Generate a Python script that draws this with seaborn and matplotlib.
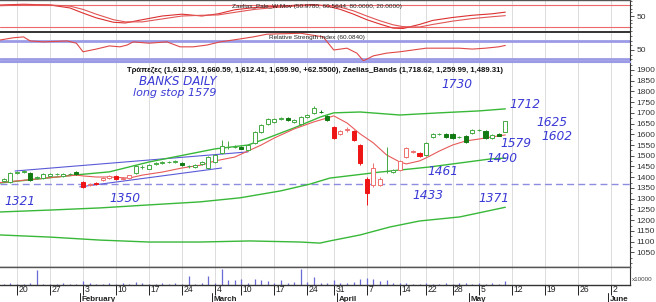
import matplotlib
matplotlib.use("Agg")
import matplotlib.pyplot as plt
import seaborn as sns
import pandas as pd
from matplotlib.transforms import ScaledTranslation, blended_transform_factory
from matplotlib.ticker import MultipleLocator

# ---------------- data (trading-day index 0 = 20 January) ----------------
day_index = list(range(-2, 75))
opens = [1383, 1378, 1421, 1426, 1420, 1398, 1398, 1405, 1413, 1406, 1414, 1424,
         1378, 1366, 1373, 1386, 1397, 1406, 1392, 1396,
         1418, 1446, 1440, 1463, 1466, 1470, 1473, 1467, 1450, 1447, 1461, 1443,
         1472, 1513, 1541, 1540, 1542, 1527, 1560, 1611, 1648, 1658, 1672, 1676,
         1658, 1648, 1680, 1700, 1706, 1685,
         1634, 1603, 1621, 1615, 1550, 1390, 1364, 1366, 1427, 1425, 1434, 1494,
         1518, 1513,
         1504, 1588, 1600, 1602, 1600, 1586, 1592, 1606, 1619, 1615, 1584, 1601, 1612.93]
highs = [1395, 1426, 1430, 1434, 1424, 1406, 1419, 1418, 1420, 1418, 1420, 1428,
         1382, 1375, 1378, 1400, 1410, 1409, 1399, 1412,
         1456, 1455, 1460, 1470, 1476, 1477, 1480, 1471, 1458, 1460, 1475, 1500,
         1508, 1574, 1568, 1548, 1547, 1553, 1614, 1648, 1676, 1676, 1680, 1681,
         1670, 1684, 1695, 1730, 1712, 1690,
         1640, 1620, 1633, 1620, 1556, 1402, 1466, 1400, 1541, 1440, 1480, 1540,
         1527, 1518,
         1564, 1604, 1607, 1606, 1604, 1594, 1596, 1624, 1626, 1619, 1600, 1604, 1660.59]
lows = [1378, 1372, 1416, 1420, 1384, 1393, 1394, 1401, 1409, 1403, 1410, 1411,
        1350, 1360, 1364, 1382, 1394, 1388, 1388, 1392,
        1414, 1440, 1437, 1458, 1462, 1465, 1468, 1454, 1445, 1443, 1457, 1440,
        1468, 1508, 1533, 1534, 1530, 1522, 1555, 1606, 1643, 1653, 1667, 1663,
        1654, 1644, 1675, 1696, 1698, 1663,
        1578, 1598, 1612, 1568, 1457, 1270, 1355, 1360, 1420, 1420, 1430, 1490,
        1512, 1495,
        1500, 1584, 1595, 1585, 1580, 1582, 1560, 1602, 1614, 1578, 1580, 1590, 1612.41]
closes = [1392, 1420, 1424, 1429, 1388, 1402, 1415, 1414, 1416, 1415, 1416, 1415,
          1355, 1369, 1368, 1397, 1406, 1392, 1396, 1410,
          1452, 1449, 1457, 1466, 1472, 1472, 1477, 1457, 1453, 1456, 1471, 1494,
          1504, 1545, 1543, 1542, 1533, 1550, 1611, 1644, 1672, 1671, 1675, 1667,
          1667, 1680, 1690, 1722, 1703, 1667,
          1583, 1615, 1625, 1573, 1466, 1327, 1443, 1394, 1431, 1433, 1476, 1536,
          1520, 1499,
          1560, 1601, 1602, 1588, 1583, 1589, 1565, 1620, 1621, 1583, 1597, 1594, 1659.90]
tones = (["g"] * 12 + ["r"] * 8 + ["g"] * 30 + ["r"] * 8 + ["g"] * 2 + ["r"] * 4
         + ["g"] * 13)

volume = [1, 1.5, 1, 1, 1.5, 15, 1, 1, 1, 1.5, 1, 1, 4, 1.5, 1, 1, 1.5, 1, 1.5, 1,
          3, 1.5, 1, 1, 1.5, 1, 1.5, 1, 9, 1, 1.5, 9, 1.5, 16, 5, 5, 6, 2, 6, 5, 4,
          1.5, 5, 2, 3, 16, 3, 8, 2, 2, 5, 2, 2, 3, 6, 7, 6, 4, 5, 2, 2, 1.5, 1, 1,
          1.5, 1, 1, 1.5, 1, 1.5, 2, 1, 1.5, 1, 1.5, 1, 4]

# Zaelias bands (upper / middle / lower) and short red average
upper_x = [-2.6, 9, 14, 20, 30, 35, 38, 42, 46, 48, 52, 58, 64, 70, 74]
upper_y = [1373, 1411, 1425, 1471, 1532, 1550, 1583, 1630, 1681, 1700, 1704, 1690, 1700, 1709, 1718.62]
middle_x = [-2.6, 5, 12.6, 20, 27.7, 33.8, 39.9, 44.4, 47.4, 55, 62.6, 71.7, 74]
middle_y = [1238, 1247, 1257, 1271, 1285, 1304, 1336, 1368, 1396, 1424, 1448, 1485, 1489.31]
lower_x = [-2.6, 5, 12.6, 20, 27.7, 35.3, 42.9, 45.9, 47.4, 52, 56.5, 61, 67.1, 74]
lower_y = [1131, 1121, 1107, 1098, 1098, 1103, 1098, 1093, 1103, 1131, 1168, 1196, 1215, 1259.99]
red_x = [-2.6, 9, 10, 12, 14, 17, 19, 22, 25, 28, 30, 33, 35, 37, 39, 42, 45, 47,
         48, 50, 52, 54, 56, 58, 59, 61, 62, 64, 66, 68, 70, 72, 74]
red_y = [1375, 1410, 1406, 1401, 1401, 1396, 1410, 1424, 1443, 1457, 1476, 1494,
         1522, 1550, 1583, 1625, 1658, 1676, 1686, 1653, 1602, 1560, 1504, 1471,
         1462, 1476, 1490, 1522, 1550, 1569, 1578, 1588, 1597]

# drawn trend lines and stop level
trend_a_x = [-0.3, 35]
trend_a_y = [1429, 1518]
trend_b_x = [9.5, 31]
trend_b_y = [1355, 1443]
stop_level = 1368

# oscillator panel
osc_x = [-2.6, 1, 5, 8, 10, 12, 14.6, 16.4, 19, 22, 25, 28, 30.5, 33, 36, 39, 42,
         45, 47, 49, 51, 53, 55, 57, 58.5, 61, 63, 66, 69, 72, 74]
osc_a = [80, 82, 80, 72, 58, 45, 33, 31, 40, 50, 55, 50, 56, 67, 73, 76, 79, 81,
         77, 68, 55, 40, 28, 17, 16, 27, 38, 46, 52, 56, 60.56]
osc_b = [78, 80, 80, 77, 68, 55, 40, 34, 34, 42, 50, 52, 53, 60, 68, 73, 77, 79,
         79, 74, 64, 50, 37, 26, 21, 20, 27, 36, 43, 48, 50.98]

# RSI panel
rsi_x = [-2.6, -0.6, 1, 1.2, 2, 4, 7.6, 9, 10, 12, 14, 15.6, 16.7, 17.6, 20, 22.7,
         24.7, 26.7, 28.8, 30.8, 32.7, 35.8, 37.9, 43, 46.4, 48, 50, 51.5, 52.5,
         54, 56, 58, 60, 62, 65, 67, 69, 71, 73, 74]
rsi_y = [72, 77, 79, 77, 70, 68, 70, 65, 46, 52, 59, 57, 61, 68, 65, 68, 57, 57,
         61, 68, 72, 79, 85, 87, 79, 50, 54, 43, 26, 37, 43, 46, 50, 54, 54, 54,
         52, 54, 57, 60.08]

week_ticks = [0, 5, 10, 15, 20, 25, 30, 34, 39, 44, 48, 53, 58, 62, 66, 70, 75, 80, 85, 90]
week_labels = ["20", "27", "3", "10", "17", "24", "4", "10", "17", "24", "31", "7",
               "14", "22", "28", "5", "12", "19", "26", "2"]
month_pos = [9.5, 29.5, 48.5, 68.5, 89.5]
month_labels = ["February", "March", "April", "May", "June"]
price_ticks = list(range(1050, 1901, 50))

notes = ["BANKS DAILY", "long stop 1579", "1730", "1712", "1625", "1602", "1579",
         "1490", "1461", "1433", "1371", "1321", "1350"]
notes_x = [24.4, 23.9, 66.7, 77, 81, 81.8, 75.6, 73.5, 64.5, 62.3, 72.3, 0.5, 16.4]
notes_y = [1847, 1791, 1830, 1741, 1653, 1592, 1555, 1485, 1429, 1313, 1299, 1289, 1299]
notes_size = [8.6, 8.0, 8.8, 8.8, 8.8, 8.8, 8.8, 8.8, 8.8, 8.8, 8.8, 8.8, 8.8]

title_main = ("Τράπεζες (1,612.93, 1,660.59, 1,612.41, 1,659.90, +62.5500), "
              "Zaelias_Bands (1,718.62, 1,259.99, 1,489.31)")
title_osc = "Zaelias_Pale_W Mov (50.9780, 60.5644, 80.0000, 20.0000)"
title_rsi = "Relative Strength Index (60.0840)"

# ---------------- style ----------------
sns.set_theme(style="white")
plt.rcParams["font.family"] = ["Liberation Sans", "DejaVu Sans"]

XMIN, XMAX = -2.58, 92.9
fig = plt.figure(figsize=(6.56, 3.02), dpi=100)
ax1 = fig.add_axes([0, 0.894, 0.9604, 0.106])
ax2 = fig.add_axes([0, 0.798, 0.9604, 0.093])
axm = fig.add_axes([0, 0.1159, 0.9604, 0.6788])
axv = fig.add_axes([0, 0.0563, 0.9604, 0.0596])

GRID = "#dcdcdc"
for ax in (ax1, ax2, axm, axv):
    ax.set_xlim(XMIN, XMAX)
    ax.set_facecolor("white")
    for t in week_ticks:
        ax.axvline(t, color=GRID, lw=0.7, zorder=0)
    ax.spines["left"].set_visible(False)
    ax.spines["right"].set_color("#333333")
    ax.spines["right"].set_linewidth(0.8)
    for s in ("top", "bottom"):
        ax.spines[s].set_color("#555555")
        ax.spines[s].set_linewidth(1.0)
    ax.yaxis.tick_right()
    ax.tick_params(axis="y", which="major", labelsize=6, length=3, width=0.6,
                   colors="#333333", pad=1.5, right=True)
    ax.tick_params(axis="y", which="minor", length=1.5, width=0.5, right=True,
                   colors="#333333")
    ax.set_xticks([])

# ---- oscillator panel ----
ax1.set_ylim(6.4, 93.6)
ax1.axhline(80, color="#ee6a6a", lw=0.8)
ax1.axhline(20, color="#ee6a6a", lw=0.8)
sns.lineplot(x=osc_x, y=osc_a, ax=ax1, color="#dd3030", lw=0.8, estimator=None, sort=False)
sns.lineplot(x=osc_x, y=osc_b, ax=ax1, color="#e25555", lw=0.8, estimator=None, sort=False)
ax1.set_yticks([50])
ax1.yaxis.set_minor_locator(MultipleLocator(10))
ax1.text(0.503, 0.80, title_osc, transform=ax1.transAxes, ha="center", va="center",
         fontsize=4.6, color="#222222")
ax1.spines["bottom"].set_color("#333333")
ax1.spines["bottom"].set_linewidth(1.4)

# ---- RSI panel ----
ax2.set_ylim(25.6, 87.8)
ax2.axhline(70, color="#9a9ae6", lw=2)
ax2.axhline(30, color="#9a9ae6", lw=2)
sns.lineplot(x=rsi_x, y=rsi_y, ax=ax2, color="#e04848", lw=0.8, estimator=None, sort=False)
ax2.set_yticks([50])
ax2.yaxis.set_minor_locator(MultipleLocator(10))
ax2.text(0.503, 0.82, title_rsi, transform=ax2.transAxes, ha="center", va="center",
         fontsize=4.6, color="#222222")
ax2.spines["top"].set_visible(False)
ax2.spines["bottom"].set_visible(False)

# ---- main price panel ----
axm.set_ylim(981.6, 1937)
axm.spines["top"].set_color("#9a9ae6")
axm.spines["top"].set_linewidth(1.5)
axm.axhline(stop_level, color="#8c8ce0", lw=1.0, ls=(0, (5, 3)), zorder=1)
sns.lineplot(x=trend_a_x, y=trend_a_y, ax=axm, color="#5a5ad8", lw=0.8, estimator=None)
sns.lineplot(x=trend_b_x, y=trend_b_y, ax=axm, color="#5a5ad8", lw=0.8, estimator=None)
band_color = "#38b838"
sns.lineplot(x=upper_x, y=upper_y, ax=axm, color=band_color, lw=1.0, estimator=None, sort=False)
sns.lineplot(x=middle_x, y=middle_y, ax=axm, color=band_color, lw=1.0, estimator=None, sort=False)
sns.lineplot(x=lower_x, y=lower_y, ax=axm, color=band_color, lw=1.0, estimator=None, sort=False)
sns.lineplot(x=red_x, y=red_y, ax=axm, color="#e85a5a", lw=0.8, estimator=None, sort=False)

tone_col = {"g": ("#44aa44", "#137a13"), "r": ("#ee7070", "#ee1515")}
for i, o, h, l, c, t in zip(day_index, opens, highs, lows, closes, tones):
    hollow_col, fill_col = tone_col[t]
    up = c >= o
    col = hollow_col if up else fill_col
    axm.vlines(i, l, h, color=col, lw=0.7, zorder=3)
    body = max(abs(c - o), 0.6)
    axm.bar(i, body, bottom=min(o, c), width=0.62,
            facecolor="white" if up else fill_col, edgecolor=col, linewidth=0.7, zorder=4)

axm.set_yticks(price_ticks)
axm.yaxis.set_minor_locator(MultipleLocator(25))
axm.text(0.5, 0.958, title_main, transform=axm.transAxes, ha="center", va="center",
         fontsize=5.55, fontweight="bold", color="#111111")
for txt, x, y, fs in zip(notes, notes_x, notes_y, notes_size):
    axm.text(x, y, txt, ha="center", va="center", fontsize=fs, fontstyle="italic",
             color="#3a3ad6", family=["DejaVu Sans"], fontweight="light")

# ---- volume panel ----
axv.set_ylim(0, 18)
axv.vlines(day_index, 0, volume, color="#6a6ad6", lw=0.9)
axv.set_yticks([])
axv.spines["top"].set_color("#555555")
axv.spines["bottom"].set_color("#333333")
axv.set_xticks(week_ticks)
axv.set_xticklabels(week_labels)
axv.tick_params(axis="x", direction="out", length=7, width=0.7, colors="#222222",
                labelsize=6.2, pad=-7, bottom=True)
offset = ScaledTranslation(1.5 / 100, 0, fig.dpi_scale_trans)
for lab in axv.get_xticklabels():
    lab.set_horizontalalignment("left")
    lab.set_transform(lab.get_transform() + offset)
trans = blended_transform_factory(axv.transData, axv.transAxes)
for pos, name in zip(month_pos, month_labels):
    axv.plot([pos, pos], [-0.45, -1.0], color="#222222", lw=0.7, transform=trans,
             clip_on=False)
    axv.text(pos + 0.3, -0.82, name, transform=trans, ha="left", va="center",
             fontsize=5.8, fontweight="bold", color="#222222")
axv.text(1.003, 0.3, "x10000", transform=axv.transAxes, ha="left", va="center",
         fontsize=4.5, color="#444444")
for ax in (ax1, ax2, axm, axv):
    ax.set_xlabel("")
    ax.set_ylabel("")
    ax.set_xlim(XMIN, XMAX)

fig.savefig("out.png", dpi=100)
